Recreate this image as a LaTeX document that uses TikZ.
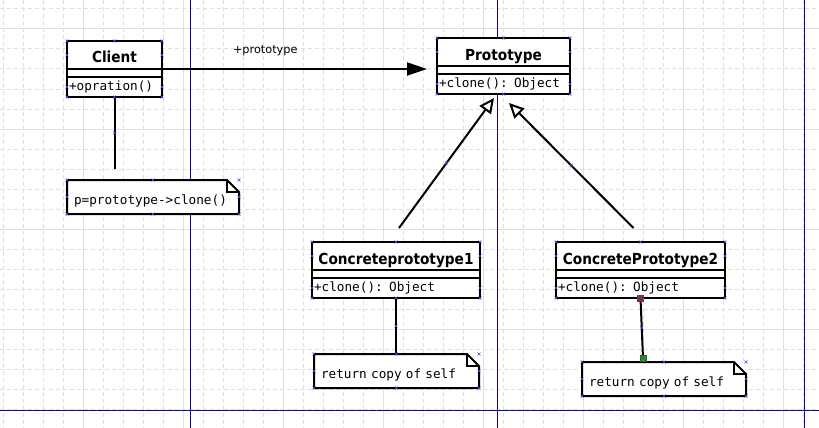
\documentclass[tikz,border=0pt]{standalone}
\usepackage{fontspec}
\setmainfont{DejaVu Sans}
\setmonofont{DejaVu Sans Mono}
\newfontfamily\clsfont{DejaVu Sans}[FakeStretch=0.9]
\newcommand\membertext{\fontsize{12.7}{15}\selectfont\ttfamily\spaceskip 7.65pt\relax\xspaceskip 7.65pt\relax}
\usetikzlibrary{positioning,arrows.meta}

\definecolor{gridgray}{HTML}{DCE0DE}
\definecolor{pageblue}{HTML}{0A0A9E}
\definecolor{cpblue}{HTML}{4A4AE6}

\begin{document}
\begin{tikzpicture}[x=1pt,y=-1pt,
            every node/.style={inner sep=0pt, outer sep=0pt},
            minorgrid/.style={gridgray, line width=1pt, dash pattern=on 4pt off 3pt},
            majorgrid/.style={gridgray, line width=1pt},
            pageline/.style={pageblue, line width=1pt},
            clsname/.style={draw, fill=white, line width=2pt, minimum height=28pt,
                text height=18pt, text depth=2pt, font=\fontsize{15.2}{17}\clsfont\bfseries},
            clsattr/.style={draw, fill=white, line width=2pt, minimum height=8pt},
            clsops/.style={draw, fill=white, line width=2pt, minimum height=20pt,
                align=left, inner xsep=2pt, font=\membertext},
            note/.style={fill=white, anchor=north west, minimum height=34pt, align=left,
                inner xsep=7pt, text height=18pt, text depth=3pt, font=\membertext},
            notebox/.style={line width=2pt, line join=miter},
            lbl/.style={font=\fontsize{11.3}{13}\selectfont},
            assoc/.style={line width=2pt, -{Triangle[length=20pt,width=13pt]}},
            inherit/.style={line width=2pt, -{Triangle[open,length=15pt,width=14pt,fill=white]}},
            link/.style={line width=2pt},
            cpmark/.style={cpblue, line width=.6pt},
            handle/.style={draw=black!70, line width=.6pt, minimum size=6pt}]

        \useasboundingbox (0,0) rectangle (819,428);
        \fill[white] (0,0) rectangle (819,428);

        % grid and page breaks
        \foreach \x in {3,23,...,819} \draw[minorgrid] (\x,0) -- (\x,428);
        \foreach \y in {9,29,...,428} \draw[minorgrid] (0,\y) -- (819,\y);
        \foreach \x in {83,183,...,783} \draw[majorgrid] (\x,0) -- (\x,428);
        \foreach \y in {29,129,...,329} \draw[majorgrid] (0,\y) -- (819,\y);
        \foreach \x in {190,497,804} \draw[pageline] (\x,0) -- (\x,428);
        \draw[pageline] (0,410) -- (819,410);

        % classes
        \node[clsname, minimum width=95pt] (client-n) at (114.5,55) {Client};
        \node[clsattr, minimum width=95pt, below=0pt of client-n] (client-a) {};
        \node[clsops, text width=91pt, below=0pt of client-a] (client-o) {+opration()};

        \node[clsname, minimum width=133pt] (proto-n) at (503.5,52) {Prototype};
        \node[clsattr, minimum width=133pt, below=0pt of proto-n] (proto-a) {};
        \node[clsops, text width=129pt, below=0pt of proto-a] (proto-o) {+clone(): Object};

        \node[clsname, minimum width=168pt] (cp1-n) at (396,256) {Concreteprototype1};
        \node[clsattr, minimum width=168pt, below=0pt of cp1-n] (cp1-a) {};
        \node[clsops, text width=164pt, below=0pt of cp1-a] (cp1-o) {+clone(): Object};

        \node[clsname, minimum width=169pt] (cp2-n) at (640.5,256) {ConcretePrototype2};
        \node[clsattr, minimum width=169pt, below=0pt of cp2-n] (cp2-a) {};
        \node[clsops, text width=165pt, below=0pt of cp2-a] (cp2-o) {+clone(): Object};

        % notes
        \node[note, minimum width=172pt, text width=158pt] (note1) at (67,180) {p=prototype->clone()};
        \node[note, minimum width=165pt, text width=151pt] (note2) at (314,354) {return copy of self};
        \node[note, minimum width=164pt, text width=150pt] (note3) at (582,362) {return copy of self};
        \foreach \n in {note1,note2,note3} {
            \draw[notebox] (\n.south west) -- (\n.north west) -- ([xshift=-12pt]\n.north east)
                -- ([yshift=-12pt]\n.north east) -- (\n.south east) -- cycle;
            \draw[notebox] ([xshift=-12pt]\n.north east) |- ([yshift=-12pt]\n.north east);
        }

        % connectors
        \coordinate (assoc-tip) at (427,69);
        \draw[assoc] (client-a.north east) -- (assoc-tip);
        \node[lbl, anchor=base west] (assoc-lbl) at (233,53) {+prototype};

        \draw[inherit] ([shift={(3,-14)}]cp1-n.north) -- coordinate[midway] (inh1-mid)
            ([shift={(-9.5,4)}]proto-o.south);
        \draw[inherit] ([shift={(-7,-14)}]cp2-n.north) -- coordinate[midway] (inh2-mid)
            ([shift={(5.5,9)}]proto-o.south);

        \coordinate (client-link) at (114.5,169);
        \draw[link] (client-o.south) -- coordinate[midway] (link1-mid) (client-link);
        \draw[link] (cp1-o.south) -- coordinate[midway] (link2-mid) (cp1-o.south |- note2.north);
        \coordinate (cp2-link) at (643,358);
        \draw[link] (cp2-o.south) -- coordinate[midway] (link3-mid) (cp2-link);
        \node[handle, fill=red!85!black] (h-start) at (cp2-o.south) {};
        \node[handle, fill=green!75!black] (h-end) at (cp2-link) {};
        \foreach \h in {h-start,h-end}
            \draw[black!70, line width=.5pt] (\h.north west) -- (\h.south east) (\h.north east) -- (\h.south west);

        % connection points
        \foreach \c in {client,proto,cp1,cp2}
            \foreach \a in {n.north west,n.north,n.north east,n.west,n.east,o.west,o.east,o.south west,o.south,o.south east}
                \draw[cpmark] (\c-\a) +(-1.5,-1.5) -- +(1.5,1.5) +(-1.5,1.5) -- +(1.5,-1.5);
        \foreach \c in {note1,note2,note3}
            \foreach \a in {north west,north,north east,west,east,south west,south,south east}
                \draw[cpmark] (\c.\a) +(-1.5,-1.5) -- +(1.5,1.5) +(-1.5,1.5) -- +(1.5,-1.5);
        \foreach \c in {inh1-mid,inh2-mid,link1-mid,link2-mid,link3-mid}
            \draw[cpmark] (\c) +(-1.5,-1.5) -- +(1.5,1.5) +(-1.5,1.5) -- +(1.5,-1.5);

\end{tikzpicture}
\end{document}
